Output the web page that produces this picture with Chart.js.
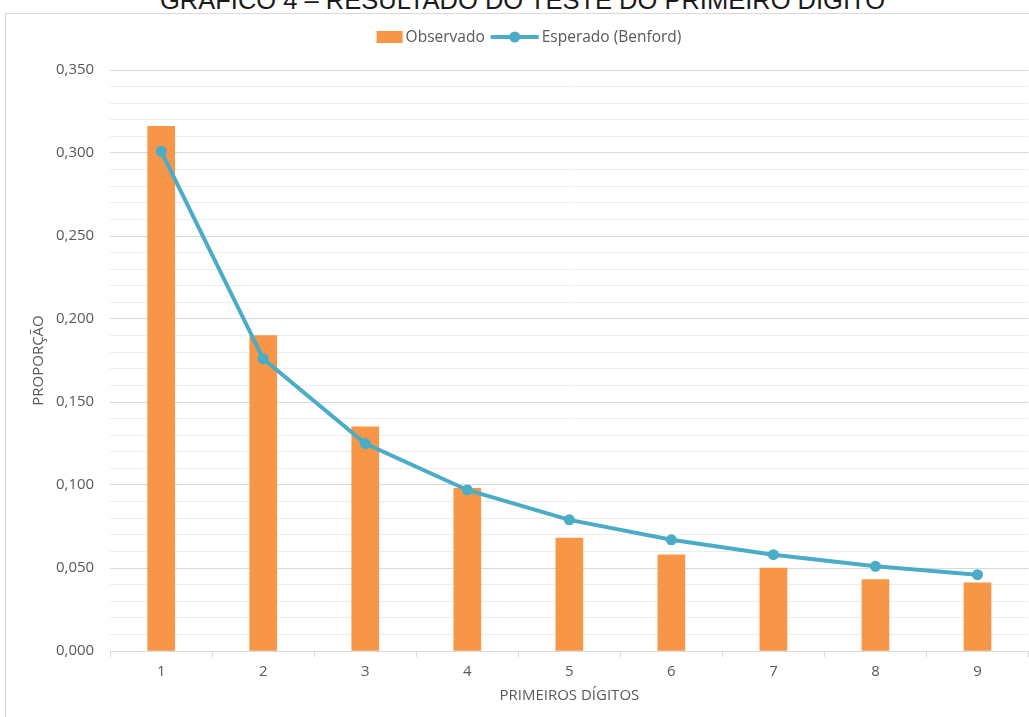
<!DOCTYPE html>
<html>
<head>
<meta charset="utf-8">
<script src="https://cdn.jsdelivr.net/npm/chart.js@4.4.1/dist/chart.umd.min.js"></script>
<style>
  html, body { margin: 0; padding: 0; background: #fff; overflow: hidden; }
  #wrap { position: relative; width: 1029px; height: 717px; overflow: hidden; }
  #title {
    position: absolute; left: 0; width: 1045px; top: -14px; text-align: center;
    font-family: "Liberation Sans", Arial, sans-serif; font-size: 25.5px; color: #1a1a1a;
    white-space: nowrap;
  }
  #frame {
    position: absolute; left: 5px; top: 13px; width: 1100px; height: 800px;
    border: 1px solid #d9d9d9; box-sizing: border-box;
  }
  canvas { position: absolute; left: 0; top: 0; }
</style>
</head>
<body>
<div id="wrap">
  <div id="title">GRÁFICO 4 – RESULTADO DO TESTE DO PRIMEIRO DÍGITO</div>
  <div id="frame"></div>
  <canvas id="c" width="1034" height="717"></canvas>
</div>
<script>
// First significant digit and the observed / expected proportions
const digits = ['1', '2', '3', '4', '5', '6', '7', '8', '9'];
const observado = [0.316, 0.190, 0.135, 0.098, 0.068, 0.058, 0.050, 0.043, 0.041];
const benford = [0.301, 0.176, 0.125, 0.097, 0.079, 0.067, 0.058, 0.051, 0.046];

const FONT = '"Open Sans", "Noto Sans", sans-serif';
const ORANGE = '#f79646';
const AQUA = '#4aacc6';
const TEXT = '#595959';

// Legend drawn in the Excel style: a box for bars, a line with a dot for the series line
const excelLegend = {
  id: 'excelLegend',
  afterDraw(chart) {
    const ctx = chart.ctx;
    const cy = 37;
    ctx.save();
    ctx.font = '15.5px ' + FONT;
    ctx.textBaseline = 'middle';
    const items = chart.data.datasets.map(d => ({
      d, sym: d.type === 'line' ? 48 : 26, tw: ctx.measureText(d.label).width
    }));
    const gap = 3, between = 6;
    let total = 0;
    items.forEach((it, i) => { total += it.sym + gap + it.tw + (i ? between : 0); });
    let x = 529 - total / 2;
    items.forEach((it, i) => {
      if (i) x += between;
      if (it.d.type === 'line') {
        ctx.strokeStyle = it.d.borderColor; ctx.lineWidth = 4;
        ctx.beginPath(); ctx.moveTo(x, cy); ctx.lineTo(x + it.sym, cy); ctx.stroke();
        ctx.fillStyle = it.d.borderColor;
        ctx.beginPath(); ctx.arc(x + it.sym / 2, cy, 5.5, 0, Math.PI * 2); ctx.fill();
      } else {
        ctx.fillStyle = it.d.backgroundColor;
        ctx.fillRect(x, cy - 6, it.sym, 12);
      }
      x += it.sym + gap;
      ctx.fillStyle = TEXT;
      ctx.fillText(it.d.label, x, cy + 1);
      x += it.tw;
    });
    ctx.restore();
  }
};

const isMajor = v => Math.round(v * 1000) % 50 === 0;

new Chart(document.getElementById('c'), {
  data: {
    labels: digits,
    datasets: [
      {
        type: 'bar', label: 'Observado', data: observado,
        backgroundColor: ORANGE, barThickness: 27, order: 1
      },
      {
        type: 'line', label: 'Esperado (Benford)', data: benford,
        borderColor: AQUA, backgroundColor: AQUA, borderWidth: 4,
        pointRadius: 5.5, pointBackgroundColor: AQUA, pointBorderWidth: 0,
        tension: 0, order: 0
      }
    ]
  },
  plugins: [excelLegend],
  options: {
    responsive: false,
    animation: false,
    layout: { padding: { left: 30, right: 0, top: 70, bottom: 12 } },
    plugins: { legend: { display: false }, tooltip: { enabled: false } },
    scales: {
      x: {
        offset: true,
        grid: { offset: true, drawOnChartArea: false, drawTicks: true, tickLength: 6, color: '#d9d9d9' },
        border: { display: true, color: '#d9d9d9', width: 1 },
        ticks: { color: TEXT, font: { family: FONT, size: 15 }, padding: 6 },
        title: { display: true, text: 'PRIMEIROS DÍGITOS', color: TEXT, font: { family: FONT, size: 15 }, padding: { top: 0, bottom: 0 } }
      },
      y: {
        min: 0, max: 0.35,
        border: { display: false },
        grid: {
          drawTicks: false,
          color: c => (isMajor(c.tick.value) ? '#d9d9d9' : '#ededed'),
          lineWidth: 1
        },
        ticks: {
          stepSize: 0.01, autoSkip: false, padding: 16, color: TEXT, font: { family: FONT, size: 15 },
          callback: v => (isMajor(v) ? v.toFixed(3).replace('.', ',') : '')
        },
        title: { display: true, text: 'PROPORÇÃO', color: TEXT, font: { family: FONT, size: 15 }, padding: { top: 0, bottom: -8 } }
      }
    }
  }
});
</script>
</body>
</html>
